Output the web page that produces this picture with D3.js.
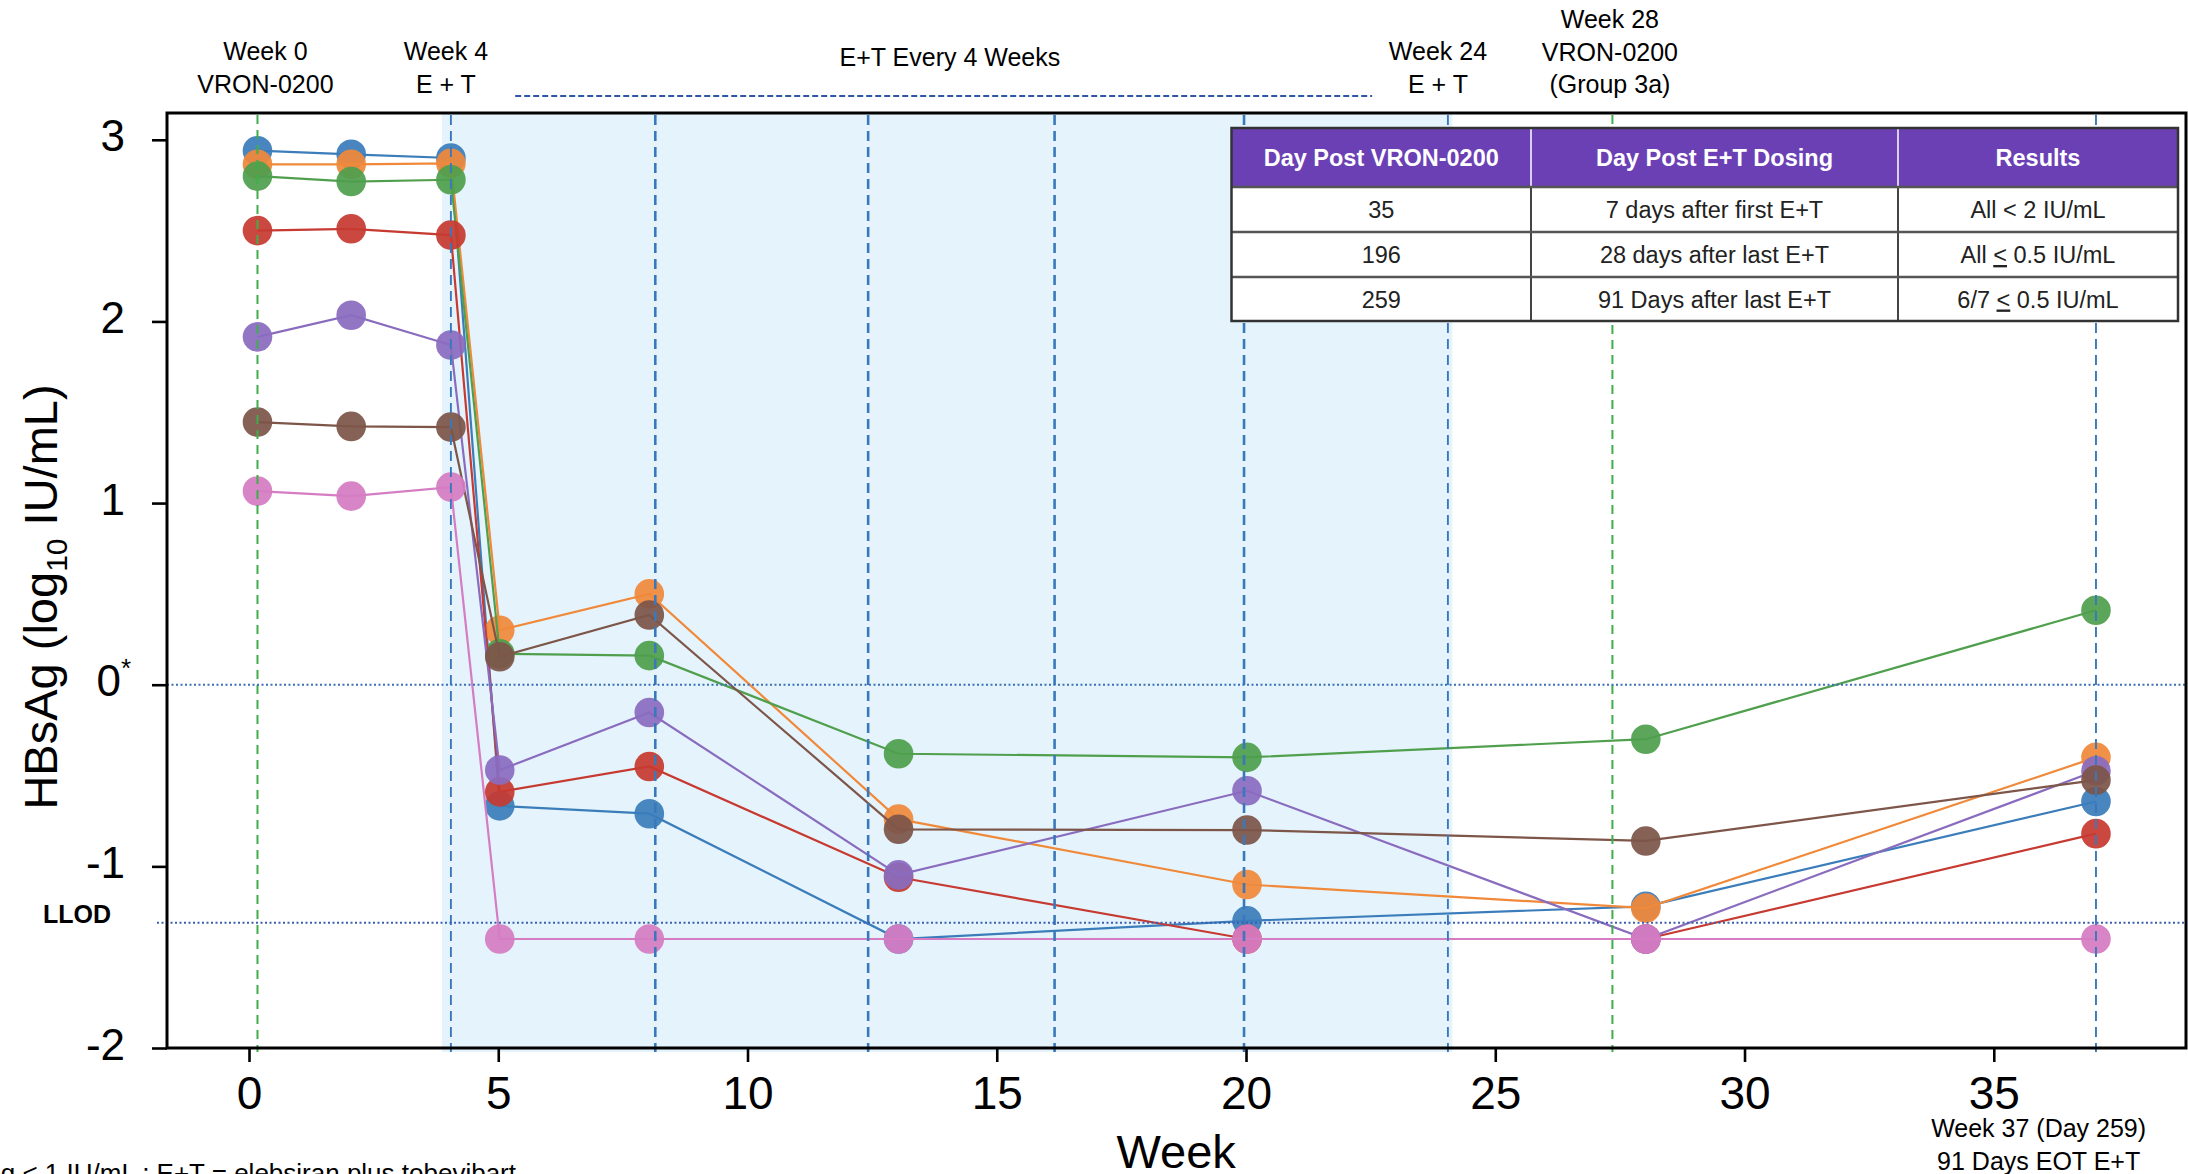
<!DOCTYPE html>
<html>
<head>
<meta charset="utf-8">
<script src="https://cdn.jsdelivr.net/npm/d3@7"></script>
<style>
  html, body { margin: 0; padding: 0; background: #fff; }
  svg { display: block; font-family: "Liberation Sans", Arial, Helvetica, sans-serif; }
</style>
</head>
<body>
<script>
// ---------------- DATA ----------------
const weeks = [0.17, 2.05, 4.05, 5.03, 8.03, 13.03, 20.02, 28.02, 37.05];

const seriesNames = ["P1", "P2", "P3", "P4", "P5", "P6", "P7"];
const seriesColors = ["#3b7dba", "#f0893a", "#4f9f4d", "#c63a32", "#8a6cbf", "#7d5549", "#d57cc3"];

const p1Blue   = [2.94, 2.92, 2.90, -0.667, -0.71, -1.40, -1.30, -1.22, -0.643];
const p2Orange = [2.865, 2.865, 2.87, 0.30, 0.50, -0.74, -1.10, -1.23, -0.40];
const p3Green  = [2.80, 2.77, 2.78, 0.17, 0.16, -0.38, -0.40, -0.30, 0.41];
const p4Red    = [2.50, 2.51, 2.475, -0.59, -0.45, -1.06, -1.40, -1.40, -0.82];
const p5Purple = [1.915, 2.034, 1.87, -0.47, -0.153, -1.047, -0.584, -1.40, -0.474];
const p6Brown  = [1.446, 1.422, 1.418, 0.154, 0.384, -0.796, -0.80, -0.86, -0.525];
const p7Pink   = [1.066, 1.038, 1.088, -1.40, -1.40, -1.40, -1.40, -1.40, -1.40];
const seriesValues = [p1Blue, p2Orange, p3Green, p4Red, p5Purple, p6Brown, p7Pink];

const xTicks = [0, 5, 10, 15, 20, 25, 30, 35];
const yTicks = [-2, -1, 0, 1, 2, 3];
const yTickLabels = ["-2", "-1", "0", "1", "2", "3"];

const zeroRef = 0;       // 0* = HBsAg < 1 IU/mL
const llodRef = -1.31;   // LLOD
const shadedWeeks = [3.87, 24.14];
const blueDoseWeeks = [4.05, 8.15, 12.42, 16.16, 19.96, 24.05, 37.05];
const greenDoseWeeks = [0.17, 27.35];

const topNotes = [
  { w: 0.33, lines: ["Week 0", "VRON-0200"] },
  { w: 3.95, lines: ["Week 4", "E + T"] },
  { w: 23.85, lines: ["Week 24", "E + T"] },
  { w: 27.3, lines: ["Week 28", "VRON-0200", "(Group 3a)"] }
];
const everyNote = { w: 14.06, text: "E+T Every 4 Weeks", from: 5.34, to: 22.53 };
const bottomNote = { w: 35.9, lines: ["Week 37 (Day 259)", "91 Days EOT E+T"] };

const tableHeader = ["Day Post VRON-0200", "Day Post E+T Dosing", "Results"];
const tableRows = [
  ["35", "7 days after first E+T", [["All < 2 IU/mL", false]]],
  ["196", "28 days after last E+T", [["All ", false], ["<", true], [" 0.5 IU/mL", false]]],
  ["259", "91 Days after last E+T", [["6/7 ", false], ["<", true], [" 0.5 IU/mL", false]]]
];
const footnote = "*0 = HBsAg < 1 IU/mL ; E+T = elebsiran plus tobevibart";

// ---------------- LAYOUT ----------------
const W = 2188, H = 1174;
const pLeft = 167, pRight = 2186, pTop = 113, pBottom = 1048;

const svg = d3.select("body").append("svg").attr("width", W).attr("height", H);

const x = d3.scaleLinear().domain([-1.645, 38.856]).range([pLeft, pRight]);
const y = d3.scaleLinear().domain([-2, 3.1475]).range([pBottom, pTop]);

// shaded treatment period
svg.append("rect")
  .attr("x", x(shadedWeeks[0])).attr("y", pTop)
  .attr("width", x(shadedWeeks[1]) - x(shadedWeeks[0]))
  .attr("height", pBottom - pTop + 4)
  .attr("fill", "#e5f4fc");

// series lines & points
const line = d3.line().x((d, i) => x(weeks[i])).y(d => y(d));
seriesValues.forEach((vals, si) => {
  const g = svg.append("g").attr("class", "series " + seriesNames[si]);
  g.append("path").datum(vals)
    .attr("d", line)
    .attr("fill", "none")
    .attr("stroke", seriesColors[si])
    .attr("stroke-width", 2.2);
  g.selectAll("circle").data(vals).join("circle")
    .attr("cx", (d, i) => x(weeks[i]))
    .attr("cy", d => y(d))
    .attr("r", 14.8)
    .attr("fill", seriesColors[si])
    .attr("fill-opacity", 0.93);
});

// vertical dose lines
svg.append("g").selectAll("line").data(blueDoseWeeks).join("line")
  .attr("x1", d => x(d)).attr("x2", d => x(d))
  .attr("y1", pTop + 2).attr("y2", pBottom + 4)
  .attr("stroke", "#3a78bb")
  .attr("stroke-width", (d, i) => (i >= 1 && i <= 4) ? 2.6 : 1.9)
  .attr("stroke-dasharray", "10,6");
svg.append("g").selectAll("line").data(greenDoseWeeks).join("line")
  .attr("x1", d => x(d)).attr("x2", d => x(d))
  .attr("y1", pTop + 2).attr("y2", pBottom + 4)
  .attr("stroke", "#3fae4a")
  .attr("stroke-width", 2)
  .attr("stroke-dasharray", "9,6");

// horizontal dotted reference lines
svg.append("line")
  .attr("x1", pLeft).attr("x2", pRight).attr("y1", y(zeroRef)).attr("y2", y(zeroRef))
  .attr("stroke", "#3a6fb8").attr("stroke-width", 2).attr("stroke-dasharray", "2,2.5");
svg.append("line")
  .attr("x1", pLeft - 10).attr("x2", pRight).attr("y1", y(llodRef)).attr("y2", y(llodRef))
  .attr("stroke", "#3a5fb0").attr("stroke-width", 2).attr("stroke-dasharray", "2,2.5");

// frame
svg.append("rect")
  .attr("x", pLeft).attr("y", pTop).attr("width", pRight - pLeft).attr("height", pBottom - pTop)
  .attr("fill", "none").attr("stroke", "#000").attr("stroke-width", 3);

// x axis
const xAxis = svg.append("g").attr("transform", `translate(0,${pBottom})`)
  .call(d3.axisBottom(x).tickValues(xTicks).tickSize(14).tickPadding(14).tickFormat(d3.format("d")));
xAxis.select(".domain").remove();
xAxis.selectAll(".tick line").attr("stroke", "#000").attr("stroke-width", 2.6);
xAxis.selectAll(".tick text").attr("font-size", 46).attr("fill", "#000")
  .attr("font-family", "Liberation Sans, Arial, sans-serif");

// y axis
const yAxis = svg.append("g").attr("transform", `translate(${pLeft},0)`)
  .call(d3.axisLeft(y).tickValues(yTicks).tickSize(15).tickPadding(27)
    .tickFormat((d, i) => yTickLabels[i]));
yAxis.select(".domain").remove();
yAxis.selectAll(".tick line").attr("stroke", "#000").attr("stroke-width", 2.6);
yAxis.selectAll(".tick text").attr("font-size", 44).attr("fill", "#000").attr("dy", "0.25em")
  .attr("font-family", "Liberation Sans, Arial, sans-serif");
yAxis.selectAll(".tick text").filter(d => d === 0)
  .attr("x", -36)
  .append("tspan").text("*").attr("font-size", 26).attr("dy", "-0.75em");

// LLOD label
svg.append("text").attr("x", 43).attr("y", 923).text("LLOD")
  .attr("font-size", 25).attr("font-weight", "bold").attr("fill", "#000");

// axis titles
svg.append("text").attr("x", x(18.6)).attr("y", 1168).attr("text-anchor", "middle")
  .attr("font-size", 47).attr("fill", "#000").text("Week");
const yt = svg.append("text")
  .attr("transform", "translate(57,597) rotate(-90)")
  .attr("text-anchor", "middle").attr("font-size", 47).attr("fill", "#000");
yt.append("tspan").text("HBsAg (log");
yt.append("tspan").text("10").attr("font-size", 30).attr("dy", 10);
yt.append("tspan").text(" IU/mL)").attr("dy", -10);

// top annotations
topNotes.forEach(n => {
  const base = n.lines.length === 3 ? 28 : 60;
  n.lines.forEach((t, i) => {
    svg.append("text").attr("x", x(n.w)).attr("y", base + i * 32.5)
      .attr("text-anchor", "middle").attr("font-size", 25).attr("fill", "#000").text(t);
  });
});
svg.append("text").attr("x", x(everyNote.w)).attr("y", 66)
  .attr("text-anchor", "middle").attr("font-size", 25).attr("fill", "#000").text(everyNote.text);
svg.append("line")
  .attr("x1", x(everyNote.from)).attr("x2", x(everyNote.to)).attr("y1", 96).attr("y2", 96)
  .attr("stroke", "#2f55a8").attr("stroke-width", 2).attr("stroke-dasharray", "6,3");

bottomNote.lines.forEach((t, i) => {
  svg.append("text").attr("x", x(bottomNote.w)).attr("y", 1137 + i * 33)
    .attr("text-anchor", "middle").attr("font-size", 25).attr("fill", "#000").text(t);
});

// footnote (partly cut off at bottom-left)
svg.append("text").attr("x", 516).attr("y", 1182).attr("text-anchor", "end")
  .attr("font-size", 26).attr("fill", "#000").text(footnote);

// ---------------- TABLE ----------------
const tX = 1231.5, tRight = 2178;
const colX = [tX, 1531, 1898, tRight];
const rowY = [128, 187, 232, 277, 321];
const tbl = svg.append("g");
tbl.append("rect").attr("x", tX).attr("y", rowY[0]).attr("width", tRight - tX).attr("height", rowY[4] - rowY[0])
  .attr("fill", "#fff");
tbl.append("rect").attr("x", tX).attr("y", rowY[0]).attr("width", tRight - tX).attr("height", rowY[1] - rowY[0])
  .attr("fill", "#6b40b5");
[1, 2].forEach(c => {
  tbl.append("line").attr("x1", colX[c]).attr("x2", colX[c]).attr("y1", rowY[0]).attr("y2", rowY[1])
    .attr("stroke", "#fff").attr("stroke-width", 1.5);
});
[1, 2].forEach(c => {
  tbl.append("line").attr("x1", colX[c]).attr("x2", colX[c]).attr("y1", rowY[1]).attr("y2", rowY[4])
    .attr("stroke", "#444").attr("stroke-width", 2);
});
[1, 2, 3].forEach(r => {
  tbl.append("line").attr("x1", tX).attr("x2", tRight).attr("y1", rowY[r]).attr("y2", rowY[r])
    .attr("stroke", "#555").attr("stroke-width", 2.5);
});
tbl.append("rect").attr("x", tX).attr("y", rowY[0]).attr("width", tRight - tX).attr("height", rowY[4] - rowY[0])
  .attr("fill", "none").attr("stroke", "#333").attr("stroke-width", 2.5);

tableHeader.forEach((h, c) => {
  tbl.append("text").attr("x", (colX[c] + colX[c + 1]) / 2).attr("y", (rowY[0] + rowY[1]) / 2 + 8)
    .attr("text-anchor", "middle").attr("font-size", 23.5).attr("font-weight", "bold")
    .attr("fill", "#fff").text(h);
});
tableRows.forEach((row, r) => {
  const cy = (rowY[r + 1] + rowY[r + 2]) / 2 + 8.5;
  [row[0], row[1]].forEach((t, c) => {
    tbl.append("text").attr("x", (colX[c] + colX[c + 1]) / 2).attr("y", cy)
      .attr("text-anchor", "middle").attr("font-size", 23.5).attr("fill", "#222").text(t);
  });
  const tt = tbl.append("text").attr("x", (colX[2] + colX[3]) / 2).attr("y", cy)
    .attr("text-anchor", "middle").attr("font-size", 23.5).attr("fill", "#222");
  row[2].forEach(([s, u]) => {
    const ts = tt.append("tspan").text(s);
    if (u) ts.attr("text-decoration", "underline");
  });
});
</script>
</body>
</html>
